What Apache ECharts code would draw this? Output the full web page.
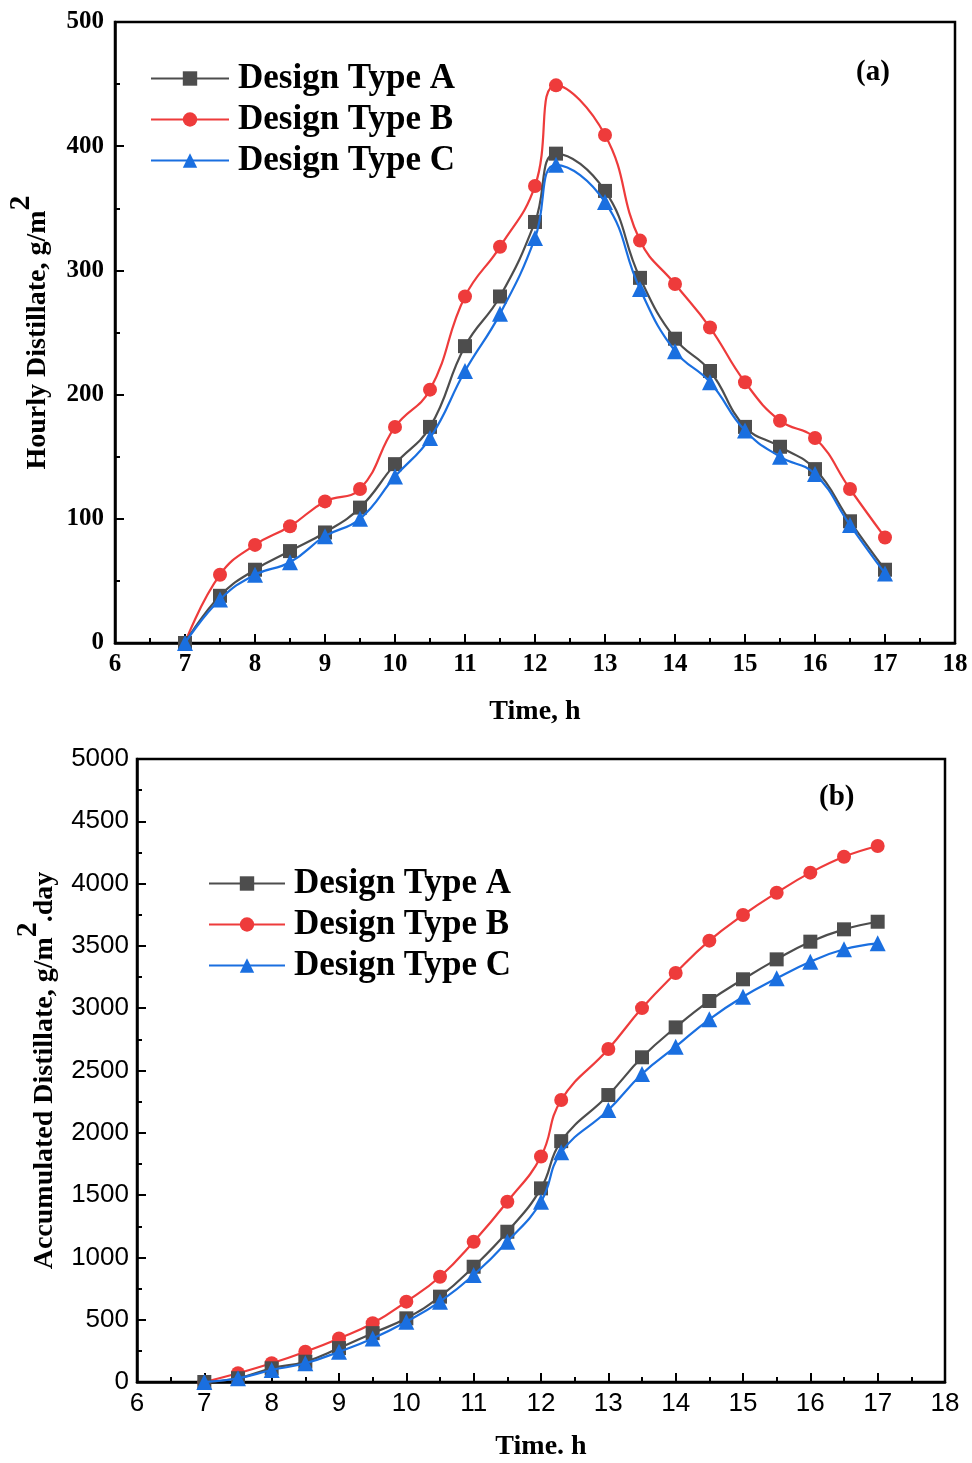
<!DOCTYPE html>
<html>
<head>
<meta charset="utf-8">
<script src="https://cdn.jsdelivr.net/npm/echarts@6/dist/echarts.min.js"></script>
<style>
  html, body { margin: 0; padding: 0; background: #fff; }
  #chart { width: 972px; height: 1463px; }
</style>
</head>
<body>
<div id="chart"></div>
<script>
// time of day, h
var hours = [7, 7.5, 8, 8.5, 9, 9.5, 10, 10.5, 11, 11.5, 12, 12.3, 13, 13.5, 14, 14.5, 15, 15.5, 16, 16.5, 17];

// (a) hourly distillate, g/m2
var hourlyA = [0, 38, 59, 74, 89, 109, 144, 174, 239, 279, 339, 394, 364, 294, 245, 219, 174, 158, 140, 98, 59];
var hourlyB = [0, 55, 79, 94, 114, 124, 174, 204, 279, 319, 368, 449, 409, 324, 289, 254, 210, 179, 165, 124, 85];
var hourlyC = [0, 35, 55, 65, 86, 100, 134, 165, 219, 265, 326, 385, 355, 285, 235, 210, 171, 150, 136, 95, 56];

// (b) accumulated distillate, g/m2.day
var accumA = [0, 30, 110, 163, 272, 392, 511, 685, 925, 1206, 1554, 1933, 2303, 2606, 2846, 3058, 3232, 3392, 3534, 3633, 3694];
var accumB = [0, 70, 150, 243, 350, 471, 645, 845, 1126, 1447, 1810, 2263, 2672, 3001, 3283, 3542, 3748, 3927, 4088, 4216, 4302];
var accumC = [0, 30, 96, 150, 243, 350, 484, 645, 859, 1126, 1447, 1843, 2183, 2472, 2691, 2911, 3092, 3240, 3373, 3473, 3521];

var names = ['Design Type A', 'Design Type B', 'Design Type C'];
var colors = ['#4d4d4d', '#ee3b3b', '#1a6fe0'];
var symbols = ['rect', 'circle', 'triangle'];

var serif = '"Liberation Serif", "Times New Roman", serif';
var sans = '"Liberation Sans", Arial, sans-serif';

function pairs(ys) {
    return hours.map(function (h, i) { return [h, ys[i]]; });
}

function makeSeries(idx, ys, axisIdx) {
    return {
        name: names[idx],
        type: 'line',
        xAxisIndex: axisIdx,
        yAxisIndex: axisIdx,
        data: pairs(ys),
        smooth: 0.45,
        symbol: symbols[idx],
        symbolSize: idx === 2 ? 16 : 14,
        lineStyle: { color: colors[idx], width: 2.2 },
        itemStyle: { color: colors[idx] },
        z: idx === 2 ? 4 : (idx === 0 ? 3 : 2)
    };
}

function xAxisCfg(gridIdx, labelFont, labelWeight, labelSize, title, gap) {
    return {
        type: 'value', gridIndex: gridIdx, min: 6, max: 18, interval: 1,
        name: title, nameLocation: 'middle', nameGap: gap,
        nameTextStyle: { fontFamily: serif, fontWeight: 'bold', fontSize: 28, color: '#000' },
        axisLine: { lineStyle: { color: '#000', width: 2.5 } },
        axisTick: { inside: true, length: 9, lineStyle: { color: '#000', width: 2 } },
        minorTick: { show: true, splitNumber: 2, length: 5, lineStyle: { color: '#000', width: 2 } },
        axisLabel: { fontFamily: labelFont, fontWeight: labelWeight, fontSize: labelSize, color: '#000', margin: 9 },
        splitLine: { show: false }
    };
}

function yName() {
    return {
        t: { fontFamily: serif, fontWeight: 'bold', fontSize: 28, color: '#000', lineHeight: 46, verticalAlign: 'bottom' },
        s: { fontFamily: serif, fontWeight: 'bold', fontSize: 30, color: '#000', lineHeight: 46, verticalAlign: 'top' }
    };
}

var legendText = { fontFamily: serif, fontWeight: 'bold', fontSize: 35, color: '#000', padding: [0, 0, 0, 4] };

var option = {
    backgroundColor: '#fff',
    animation: false,
    grid: [
        { left: 115, top: 22, width: 840, height: 621, outerBoundsMode: 'none', containLabel: false,
          show: true, borderColor: '#000', borderWidth: 2.5, backgroundColor: 'transparent' },
        { left: 137, top: 759, width: 808, height: 623, outerBoundsMode: 'none', containLabel: false,
          show: true, borderColor: '#000', borderWidth: 2.5, backgroundColor: 'transparent' }
    ],
    legend: [
        {
            data: names, orient: 'vertical', left: 150, top: 61, padding: 0,
            itemWidth: 78, itemHeight: 18, itemGap: 6, textStyle: legendText
        },
        {
            data: names, orient: 'vertical', left: 208, top: 866, padding: 0,
            itemWidth: 76, itemHeight: 18, itemGap: 6, textStyle: legendText
        }
    ],
    xAxis: [
        xAxisCfg(0, serif, 'bold', 25, 'Time, h', 55),
        xAxisCfg(1, sans, 'normal', 26, 'Time. h', 51)
    ],
    yAxis: [
        {
            type: 'value', gridIndex: 0, min: 0, max: 500, interval: 100,
            name: '{t|Hourly Distillate, g/m}{s|2}', nameLocation: 'middle', nameGap: 63, nameRotate: 90,
            nameTextStyle: { rich: yName() },
            axisLine: { lineStyle: { color: '#000', width: 2.5 } },
            axisTick: { inside: true, length: 9, lineStyle: { color: '#000', width: 2 } },
            minorTick: { show: true, splitNumber: 2, length: 5, lineStyle: { color: '#000', width: 2 } },
            axisLabel: { fontFamily: serif, fontWeight: 'bold', fontSize: 25, color: '#000', margin: 11 },
            splitLine: { show: false }
        },
        {
            type: 'value', gridIndex: 1, min: 0, max: 5000, interval: 500,
            name: '{t|Accumulated Distillate, g/m}{s|2}{t|.day}', nameLocation: 'middle', nameGap: 78, nameRotate: 90,
            nameTextStyle: { rich: yName() },
            axisLine: { lineStyle: { color: '#000', width: 2.5 } },
            axisTick: { inside: true, length: 9, lineStyle: { color: '#000', width: 2 } },
            minorTick: { show: true, splitNumber: 2, length: 5, lineStyle: { color: '#000', width: 2 } },
            axisLabel: { fontFamily: sans, fontSize: 26, color: '#000', margin: 8,
                formatter: function (v) { return String(v); } },
            splitLine: { show: false }
        }
    ],
    graphic: [
        { type: 'text', left: 856, top: 58, style: { text: '(a)', fontFamily: serif, fontWeight: 'bold', fontSize: 29, fill: '#000' } },
        { type: 'text', left: 819, top: 783, style: { text: '(b)', fontFamily: serif, fontWeight: 'bold', fontSize: 29, fill: '#000' } }
    ],
    series: [
        makeSeries(0, hourlyA, 0),
        makeSeries(1, hourlyB, 0),
        makeSeries(2, hourlyC, 0),
        makeSeries(0, accumA, 1),
        makeSeries(1, accumB, 1),
        makeSeries(2, accumC, 1)
    ]
};

var myChart = echarts.init(document.getElementById('chart'));
myChart.setOption(option);
</script>
</body>
</html>
